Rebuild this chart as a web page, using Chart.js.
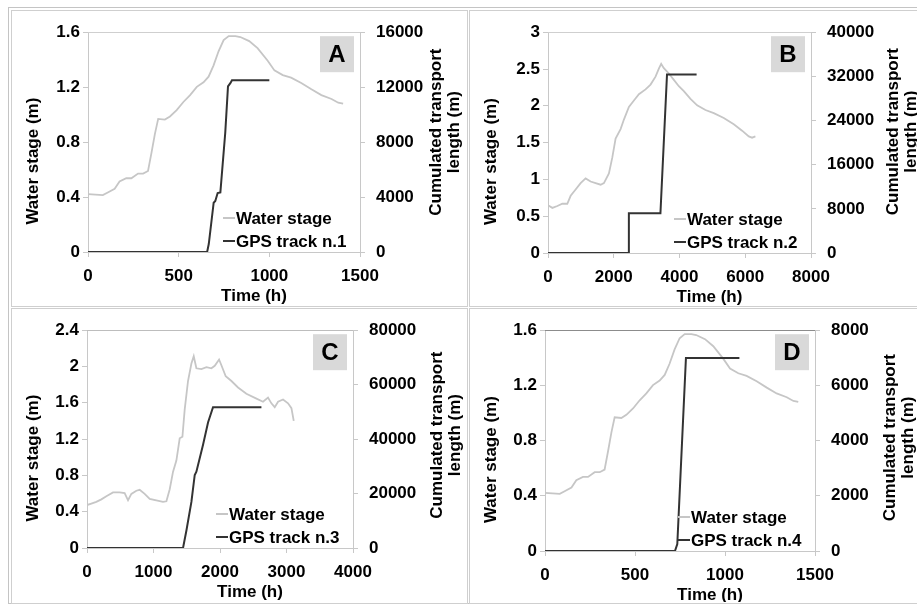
<!DOCTYPE html>
<html>
<head>
<meta charset="utf-8">
<script src="https://cdn.jsdelivr.net/npm/chart.js@4"></script>
<style>
  body { margin: 0; background: #fff; width: 917px; height: 610px; overflow: hidden; position: relative; }
  .frame { position: absolute; left: 8px; top: 7px; width: 1000px; height: 597px; border: 1px solid #c4c4c4; box-sizing: border-box; }
  .panel { position: absolute; border: 1px solid #cfcfcf; box-sizing: border-box; }
  canvas { position: absolute; }
</style>
</head>
<body>
<div class="frame"></div>
<div class="panel" style="left:11px;top:10px;width:457px;height:297px"></div>
<div class="panel" style="left:469px;top:10px;width:500px;height:297px"></div>
<div class="panel" style="left:11px;top:308px;width:457px;height:296px"></div>
<div class="panel" style="left:469px;top:308px;width:500px;height:296px"></div>
<canvas id="chartA" width="454" height="294" style="left:12px;top:11px"></canvas>
<canvas id="chartB" width="447" height="294" style="left:470px;top:11px"></canvas>
<canvas id="chartC" width="454" height="293" style="left:12px;top:309px"></canvas>
<canvas id="chartD" width="447" height="293" style="left:470px;top:309px"></canvas>
<script>
// ---- data ----
const timeStageA = [0, 82, 109, 147, 174, 211, 239, 276, 304, 331, 350, 369, 387, 424, 452, 489, 526, 563, 600, 637, 665, 692, 720, 748, 776, 813, 840, 889, 935, 991, 1028, 1074, 1120, 1176, 1232, 1287, 1343, 1380, 1407];
const stageA = [0.421, 0.414, 0.433, 0.46, 0.513, 0.537, 0.537, 0.571, 0.571, 0.59, 0.721, 0.86, 0.969, 0.964, 0.987, 1.033, 1.092, 1.142, 1.202, 1.235, 1.276, 1.357, 1.461, 1.542, 1.572, 1.572, 1.565, 1.535, 1.484, 1.392, 1.322, 1.288, 1.269, 1.23, 1.184, 1.142, 1.114, 1.087, 1.08];
const timeGpsA = [0, 657, 666, 693, 702, 715, 730, 757, 772, 785, 794, 1000];
const gpsA = [0, 0, 580, 3590, 3710, 4290, 4340, 8700, 12060, 12290, 12500, 12500];

const timeStageB = [0, 132, 284, 435, 587, 689, 840, 992, 1144, 1296, 1448, 1600, 1701, 1853, 1955, 2056, 2208, 2309, 2461, 2613, 2765, 2967, 3119, 3271, 3372, 3443, 3524, 3676, 3828, 3980, 4132, 4334, 4537, 4790, 5043, 5347, 5651, 5904, 6107, 6208, 6309];
const stageB = [0.648, 0.613, 0.639, 0.669, 0.669, 0.777, 0.863, 0.95, 1.014, 0.971, 0.95, 0.928, 0.95, 1.08, 1.295, 1.554, 1.684, 1.813, 1.986, 2.072, 2.158, 2.223, 2.288, 2.396, 2.504, 2.569, 2.512, 2.439, 2.353, 2.266, 2.2, 2.094, 2.007, 1.943, 1.9, 1.835, 1.748, 1.662, 1.584, 1.567, 1.584];
const timeGpsB = [0, 2441, 2460, 3420, 3620, 4520];
const gpsB = [0, 0, 7200, 7200, 32340, 32340];

const timeStageC = [0, 65, 140, 216, 291, 391, 491, 566, 617, 667, 742, 792, 867, 943, 1143, 1194, 1244, 1294, 1344, 1394, 1435, 1469, 1519, 1570, 1605, 1645, 1720, 1796, 1871, 1921, 1986, 2021, 2086, 2172, 2271, 2397, 2548, 2647, 2722, 2773, 2823, 2873, 2948, 3023, 3074, 3109];
const stageC = [0.473, 0.49, 0.508, 0.536, 0.571, 0.613, 0.613, 0.606, 0.526, 0.596, 0.631, 0.641, 0.596, 0.542, 0.508, 0.515, 0.648, 0.841, 0.963, 1.209, 1.226, 1.524, 1.84, 2.032, 2.113, 1.98, 1.972, 1.993, 1.98, 2.008, 2.077, 2.014, 1.892, 1.84, 1.769, 1.699, 1.646, 1.611, 1.657, 1.594, 1.552, 1.611, 1.636, 1.594, 1.541, 1.401];
const timeGpsC = [0, 1444, 1495, 1570, 1620, 1645, 1745, 1820, 1895, 2623];
const gpsC = [0, 0, 6410, 16920, 26840, 28030, 37950, 46110, 51700, 51700];

const timeStageD = timeStageA;
const stageD = stageA;
const timeGpsD = [0, 722, 735, 783, 1080];
const gpsD = [0, 0, 250, 6994, 6994];

// tick labels
const xTicksA = ['0', '500', '1000', '1500'];
const yTicksA = ['0', '0.4', '0.8', '1.2', '1.6'];
const y2TicksA = ['0', '4000', '8000', '12000', '16000'];
const xTicksB = ['0', '2000', '4000', '6000', '8000'];
const yTicksB = ['0', '0.5', '1', '1.5', '2', '2.5', '3'];
const y2TicksB = ['0', '8000', '16000', '24000', '32000', '40000'];
const xTicksC = ['0', '1000', '2000', '3000', '4000'];
const yTicksC = ['0', '0.4', '0.8', '1.2', '1.6', '2', '2.4'];
const y2TicksC = ['0', '20000', '40000', '60000', '80000'];
const xTicksD = ['0', '500', '1000', '1500'];
const yTicksD = ['0', '0.4', '0.8', '1.2', '1.6'];
const y2TicksD = ['0', '2000', '4000', '6000', '8000'];

const xTitle = 'Time (h)';
const yTitle = 'Water stage (m)';
const y2Title = ['Cumulated transport', 'length (m)'];
const stageLabel = 'Water stage';

const FONT = '"Liberation Sans", Arial, sans-serif';
const AXIS = '#c8c8c8';

const decoPlugin = {
  id: 'deco',
  afterDraw(chart, args, o) {
    const { ctx, chartArea: a } = chart;
    ctx.save();
    // top of plot area
    ctx.strokeStyle = o.topColor;
    ctx.lineWidth = 1;
    ctx.beginPath();
    ctx.moveTo(a.left, Math.round(a.top) + 0.5);
    ctx.lineTo(a.right, Math.round(a.top) + 0.5);
    ctx.stroke();

    // panel letter
    ctx.fillStyle = '#d9d9d9';
    ctx.fillRect(a.right - 40, a.top + 4, 34, 36);
    ctx.fillStyle = '#000';
    ctx.font = 'bold 24px ' + FONT;
    ctx.textAlign = 'center';
    ctx.textBaseline = 'middle';
    ctx.fillText(o.letter, a.right - 23, a.top + 23);

    // legend
    ctx.font = 'bold 17px ' + FONT;
    ctx.textAlign = 'left';
    const lx = a.right - 124;
    const items = [
      { text: stageLabel, color: '#c6c6c6', y: a.bottom - 34 },
      { text: o.gpsLabel, color: '#333', y: a.bottom - 11 }
    ];
    items.forEach((it) => {
      ctx.strokeStyle = it.color;
      ctx.lineWidth = 2;
      ctx.beginPath();
      ctx.moveTo(lx - 13, it.y);
      ctx.lineTo(lx - 1, it.y);
      ctx.stroke();
      ctx.fillStyle = '#000';
      ctx.fillText(it.text, lx, it.y + 1);
    });

    // axis titles
    ctx.font = 'bold 17px ' + FONT;
    ctx.textAlign = 'center';
    const cx = (a.left + a.right) / 2;
    const cy = (a.top + a.bottom) / 2;
    ctx.fillText(xTitle, cx + 30, a.bottom + 44);

    ctx.save();
    ctx.translate(21.5, cy + 19);
    ctx.rotate(-Math.PI / 2);
    ctx.fillText(yTitle, 0, 0);
    ctx.restore();

    y2Title.forEach((line, i) => {
      ctx.save();
      ctx.translate(a.right + o.rtX + i * 18, cy + o.rtY);
      ctx.rotate(-Math.PI / 2);
      ctx.fillText(line, 0, 0);
      ctx.restore();
    });
    ctx.restore();
  }
};

function makePanel(id, p) {
  const pts = (xs, ys) => xs.map((x, i) => ({ x: x, y: ys[i] }));
  const tickFont = { family: FONT, size: 17, weight: 'bold' };
  const grid = { display: true, drawOnChartArea: false, drawTicks: true, tickLength: 5, color: AXIS };
  new Chart(document.getElementById(id), {
    type: 'line',
    data: {
      datasets: [
        {
          label: p.gpsLabel,
          data: pts(p.tGps, p.gps),
          yAxisID: 'y2',
          borderColor: '#333',
          borderWidth: 2,
          pointRadius: 0,
          tension: 0
        },
        {
          label: stageLabel,
          data: pts(p.tStage, p.stage),
          yAxisID: 'y',
          borderColor: '#c6c6c6',
          borderWidth: 1.8,
          pointRadius: 0,
          tension: 0
        }
      ]
    },
    options: {
      responsive: false,
      animation: false,
      layout: { padding: { top: 11, left: 0, right: 0, bottom: 0 } },
      plugins: {
        legend: { display: false },
        tooltip: { enabled: false },
        deco: { letter: p.letter, gpsLabel: p.gpsLabel, topColor: p.topColor, rtX: p.rtX, rtY: p.rtY }
      },
      scales: {
        x: {
          type: 'linear',
          min: 0,
          max: p.xMax,
          border: { color: AXIS },
          grid: grid,
          ticks: {
            stepSize: p.xMax / (p.xTicks.length - 1),
            autoSkip: false,
            maxRotation: 0,
            padding: 9,
            color: '#000',
            font: tickFont,
            callback: (v, i) => p.xTicks[i]
          },
          afterFit: (s) => { s.height = p.xH; }
        },
        y: {
          position: 'left',
          min: 0,
          max: p.yMax,
          border: { color: AXIS },
          grid: grid,
          ticks: {
            stepSize: p.yMax / (p.yTicks.length - 1),
            autoSkip: false,
            padding: 3,
            color: '#000',
            font: tickFont,
            callback: (v, i) => p.yTicks[i]
          },
          afterFit: (s) => { s.width = p.yW; }
        },
        y2: {
          position: 'right',
          min: 0,
          max: p.y2Max,
          border: { color: AXIS },
          grid: grid,
          ticks: {
            stepSize: p.y2Max / (p.y2Ticks.length - 1),
            autoSkip: false,
            padding: 11,
            color: '#000',
            font: tickFont,
            callback: (v, i) => p.y2Ticks[i]
          },
          afterFit: (s) => { s.width = p.y2W; }
        }
      }
    },
    plugins: [decoPlugin]
  });
}

makePanel('chartA', {
  letter: 'A', gpsLabel: 'GPS track n.1', topColor: '#cfcfcf', rtX: 76, rtY: -10,
  tStage: timeStageA, stage: stageA, tGps: timeGpsA, gps: gpsA,
  xMax: 1500, yMax: 1.6, y2Max: 16000, xTicks: xTicksA, yTicks: yTicksA, y2Ticks: y2TicksA,
  yW: 76, y2W: 106, xH: 53
});
makePanel('chartB', {
  letter: 'B', gpsLabel: 'GPS track n.2', topColor: '#cfcfcf', rtX: 82, rtY: -11,
  tStage: timeStageB, stage: stageB, tGps: timeGpsB, gps: gpsB,
  xMax: 8000, yMax: 3, y2Max: 40000, xTicks: xTicksB, yTicks: yTicksB, y2Ticks: y2TicksB,
  yW: 78, y2W: 106, xH: 52
});
makePanel('chartC', {
  letter: 'C', gpsLabel: 'GPS track n.3', topColor: '#bdbdbd', rtX: 84, rtY: -4,
  tStage: timeStageC, stage: stageC, tGps: timeGpsC, gps: gpsC,
  xMax: 4000, yMax: 2.4, y2Max: 80000, xTicks: xTicksC, yTicks: yTicksC, y2Ticks: y2TicksC,
  yW: 75, y2W: 113, xH: 54
});
makePanel('chartD', {
  letter: 'D', gpsLabel: 'GPS track n.4', topColor: '#8c8c8c', rtX: 75, rtY: -3,
  tStage: timeStageD, stage: stageD, tGps: timeGpsD, gps: gpsD,
  xMax: 1500, yMax: 1.6, y2Max: 8000, xTicks: xTicksD, yTicks: yTicksD, y2Ticks: y2TicksD,
  yW: 75, y2W: 102, xH: 51
});
</script>
</body>
</html>
